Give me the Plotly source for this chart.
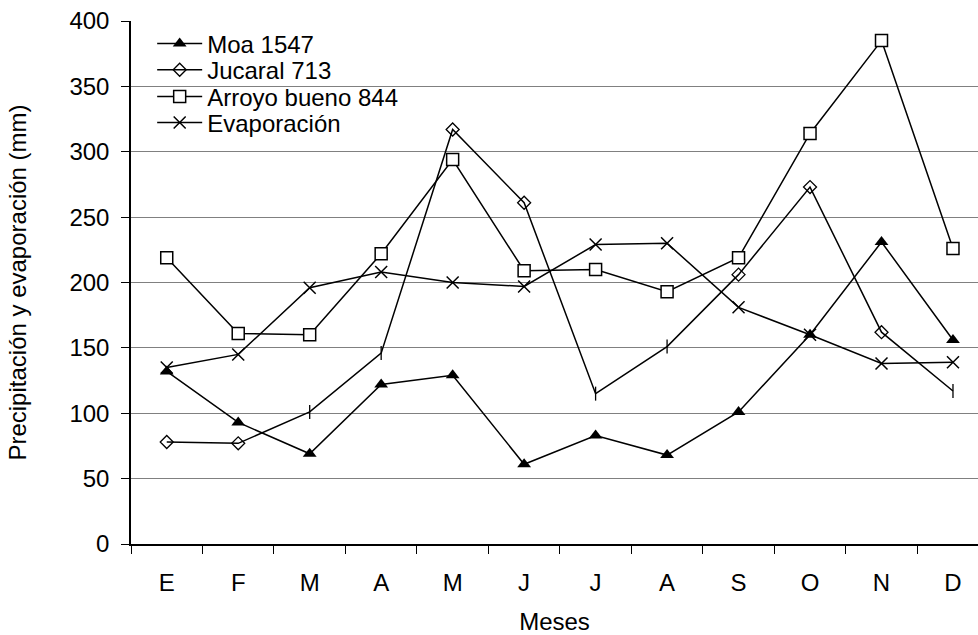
import plotly.graph_objects as go

months = ["E", "F", "M", "A", "M ", "J", "J ", "A ", "S", "O", "N", "D"]
month_labels = ["E", "F", "M", "A", "M", "J", "J", "A", "S", "O", "N", "D"]

moa = [132, 93, 69, 122, 129, 61, 83, 68, 101, 160, 231, 156]
jucaral = [78, 77, 101, 146, 317, 261, 115, 151, 206, 273, 162, 117]
arroyo = [219, 161, 160, 222, 294, 209, 210, 193, 219, 314, 385, 226]
evapo = [135, 145, 196, 208, 200, 197, 229, 230, 181, 160, 138, 139]

jucaral_symbols = ["diamond-open", "diamond-open", "line-ns-open", "line-ns-open",
                   "diamond-open", "diamond-open", "line-ns-open", "line-ns-open",
                   "diamond-open", "diamond-open", "diamond-open", "line-ns-open"]

FONT = "Liberation Sans, Arial, sans-serif"
FS = 24
LINE = dict(color="black", width=1.5)

fig = go.Figure()
fig.add_trace(go.Scatter(x=months, y=moa, name="Moa 1547", mode="lines+markers", legend="legend",
                         line=LINE, marker=dict(symbol="triangle-up", size=12, color="black")))
fig.add_trace(go.Scatter(x=months, y=jucaral, name="Jucaral 713", mode="lines+markers", legend="legend2",
                         line=LINE, marker=dict(symbol=jucaral_symbols, size=10, color="black",
                                                line=dict(color="black", width=1.3))))
fig.add_trace(go.Scatter(x=months, y=arroyo, name="Arroyo bueno 844", mode="lines+markers", legend="legend3",
                         line=LINE, marker=dict(symbol="square", size=12, color="white",
                                                line=dict(color="black", width=1.5))))
fig.add_trace(go.Scatter(x=months, y=evapo, name="Evaporación", mode="lines+markers", legend="legend4",
                         line=LINE, marker=dict(symbol="x-thin-open", size=12, color="black",
                                                line=dict(color="black", width=1.5))))

def leg(yc):
    return dict(x=0.025, y=yc, xanchor="left", yanchor="middle",
                bgcolor="rgba(0,0,0,0)", borderwidth=0, font=dict(size=FS),
                itemwidth=45, tracegroupgap=0)

fig.update_layout(
    width=978, height=635,
    margin=dict(l=131, r=0, t=21, b=91),
    paper_bgcolor="white", plot_bgcolor="white",
    font=dict(family=FONT, size=FS, color="black"),
    showlegend=True,
    legend=leg(0.956), legend2=leg(0.906), legend3=leg(0.855), legend4=leg(0.805),
    shapes=[dict(type="rect", xref="paper", yref="paper", x0=0.0, x1=0.346, y0=0.74, y1=0.995,
                 fillcolor="white", line=dict(width=0), layer="between")],
    xaxis=dict(
        type="category", categoryorder="array", categoryarray=months,
        tickvals=months, ticktext=month_labels,
        range=[-0.5, 11.35],
        tickson="boundaries", ticks="outside", ticklen=8, tickcolor="black",
        showline=True, linecolor="black", linewidth=1.5,
        showgrid=False, zeroline=False,
        ticklabelstandoff=16,
        title=dict(text="Meses", font=dict(size=FS), standoff=20),
        tickfont=dict(size=FS),
    ),
    yaxis=dict(
        range=[0, 400], dtick=50, tickmode="linear", tick0=0,
        ticks="outside", ticklen=8, tickcolor="black",
        showline=True, linecolor="black", linewidth=1.5,
        showgrid=True, gridcolor="#808080", gridwidth=1.3,
        zeroline=False, ticklabelstandoff=7,
        title=dict(text="Precipitación y evaporación (mm)", font=dict(size=FS), standoff=36),
        tickfont=dict(size=FS),
    ),
)

fig.write_html("out.html")
